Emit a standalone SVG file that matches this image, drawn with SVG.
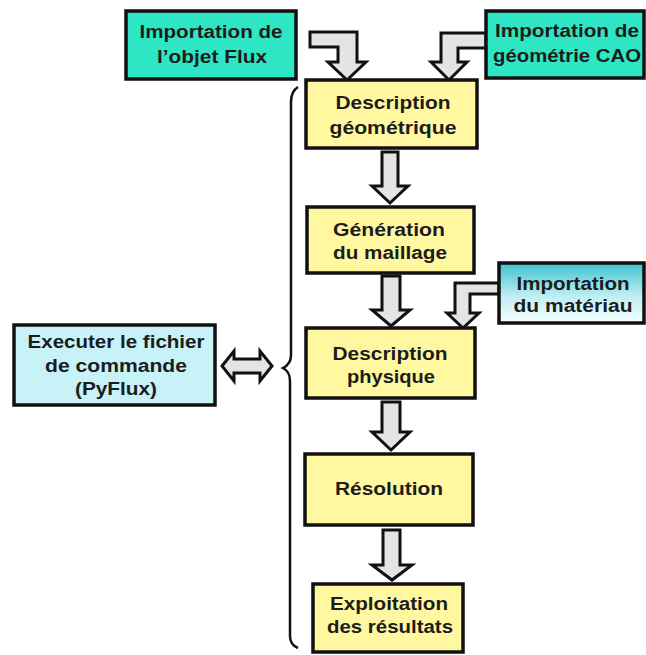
<svg xmlns="http://www.w3.org/2000/svg" width="646" height="655" viewBox="0 0 646 655">
<style>
.box{stroke:#111;stroke-width:3.5}
.teal{fill:#2ee6c4}
.yel{fill:#fff8a0}
.lb{fill:#c6f2f8}
.t{font-family:"Liberation Sans",Arial,sans-serif;font-weight:bold;font-size:17.5px;fill:#1c1c1c}
.arr{fill:#e4e4e4;stroke:#111;stroke-width:3;stroke-linejoin:miter}
.brace{fill:none;stroke:#111;stroke-width:2.5}
</style>
<defs>
<linearGradient id="gm" x1="0" y1="0" x2="0" y2="1">
<stop offset="0" stop-color="#3cc2ce"/>
<stop offset="0.55" stop-color="#bfeef3"/>
<stop offset="1" stop-color="#f4ffff"/>
</linearGradient>
</defs>
<g id="connectors">
<path class="arr" d="M310,32 H357 V62 H366 L347,80 L328,62 H338 V47 H310 Z"/>
<path class="arr" d="M486,33 H441 V62 H431 L449,80 L467,62 H458 V48 H486 Z"/>
<path class="arr" d="M499,283 H455 V313 H447 L463,328 L479,313 H470 V294 H499 Z"/>
<path class="arr" d="M382,152 H398 V186 H408 L390,203 L372,186 H382 Z"/>
<path class="arr" d="M382,276 H400 V310 H410 L391,326 L372,310 H382 Z"/>
<path class="arr" d="M382,402 H400 V432 H410 L391,450 L372,432 H382 Z"/>
<path class="arr" d="M383,530 H400 V565 H412 L392,580 L372,565 H383 Z"/>
<path class="arr" d="M222,366 L234,351 V359 H260 V351 L272,366 L260,381 V373 H234 V381 Z"/>
</g>
<path id="brace" class="brace" d="M298,87 C293,90 291,95 291,102 V355 C291,362 287,366 283,368 C287,370 290,374 290,381 V636 C290,642 293,646 298,648"/>
<g id="n-import-flux">
<rect class="box teal" x="126" y="11" width="170" height="68"/>
<text class="t" x="211" y="38" text-anchor="middle" textLength="143" lengthAdjust="spacingAndGlyphs">Importation de</text>
<text class="t" x="212" y="63" text-anchor="middle" textLength="110" lengthAdjust="spacingAndGlyphs">l’objet Flux</text>
</g>
<g id="n-import-cao">
<rect class="box teal" x="486" y="11" width="158" height="67"/>
<text class="t" x="567" y="37" text-anchor="middle" textLength="144" lengthAdjust="spacingAndGlyphs">Importation de</text>
<text class="t" x="567" y="62" text-anchor="middle" textLength="148" lengthAdjust="spacingAndGlyphs">géométrie CAO</text>
</g>
<g id="n-desc-geo">
<rect class="box yel" x="306" y="80" width="171" height="68"/>
<text class="t" x="393" y="109" text-anchor="middle" textLength="115" lengthAdjust="spacingAndGlyphs">Description</text>
<text class="t" x="393" y="134" text-anchor="middle" textLength="127" lengthAdjust="spacingAndGlyphs">géométrique</text>
</g>
<g id="n-gen">
<rect class="box yel" x="307" y="207" width="167" height="66"/>
<text class="t" x="389" y="236" text-anchor="middle" textLength="112" lengthAdjust="spacingAndGlyphs">Génération</text>
<text class="t" x="390" y="259" text-anchor="middle" textLength="114" lengthAdjust="spacingAndGlyphs">du maillage</text>
</g>
<g id="n-import-mat">
<rect class="box" fill="url(#gm)" x="499" y="263" width="145" height="60"/>
<text class="t" x="573" y="290" text-anchor="middle" textLength="113" lengthAdjust="spacingAndGlyphs">Importation</text>
<text class="t" x="573" y="312" text-anchor="middle" textLength="119" lengthAdjust="spacingAndGlyphs">du matériau</text>
</g>
<g id="n-exec">
<rect class="box lb" x="14" y="325" width="201" height="80"/>
<text class="t" x="116" y="348" text-anchor="middle" textLength="177" lengthAdjust="spacingAndGlyphs">Executer le fichier</text>
<text class="t" x="116" y="372" text-anchor="middle" textLength="142" lengthAdjust="spacingAndGlyphs">de commande</text>
<text class="t" x="116" y="395" text-anchor="middle" textLength="82" lengthAdjust="spacingAndGlyphs">(PyFlux)</text>
</g>
<g id="n-desc-phys">
<rect class="box yel" x="306" y="328" width="169" height="70"/>
<text class="t" x="390" y="360" text-anchor="middle" textLength="115" lengthAdjust="spacingAndGlyphs">Description</text>
<text class="t" x="391" y="383" text-anchor="middle" textLength="88" lengthAdjust="spacingAndGlyphs">physique</text>
</g>
<g id="n-resol">
<rect class="box yel" x="305" y="454" width="168" height="71"/>
<text class="t" x="389" y="495" text-anchor="middle" textLength="108" lengthAdjust="spacingAndGlyphs">Résolution</text>
</g>
<g id="n-exploit">
<rect class="box yel" x="313" y="584" width="150" height="68"/>
<text class="t" x="389" y="610" text-anchor="middle" textLength="118" lengthAdjust="spacingAndGlyphs">Exploitation</text>
<text class="t" x="390" y="633" text-anchor="middle" textLength="126" lengthAdjust="spacingAndGlyphs">des résultats</text>
</g>
</svg>
